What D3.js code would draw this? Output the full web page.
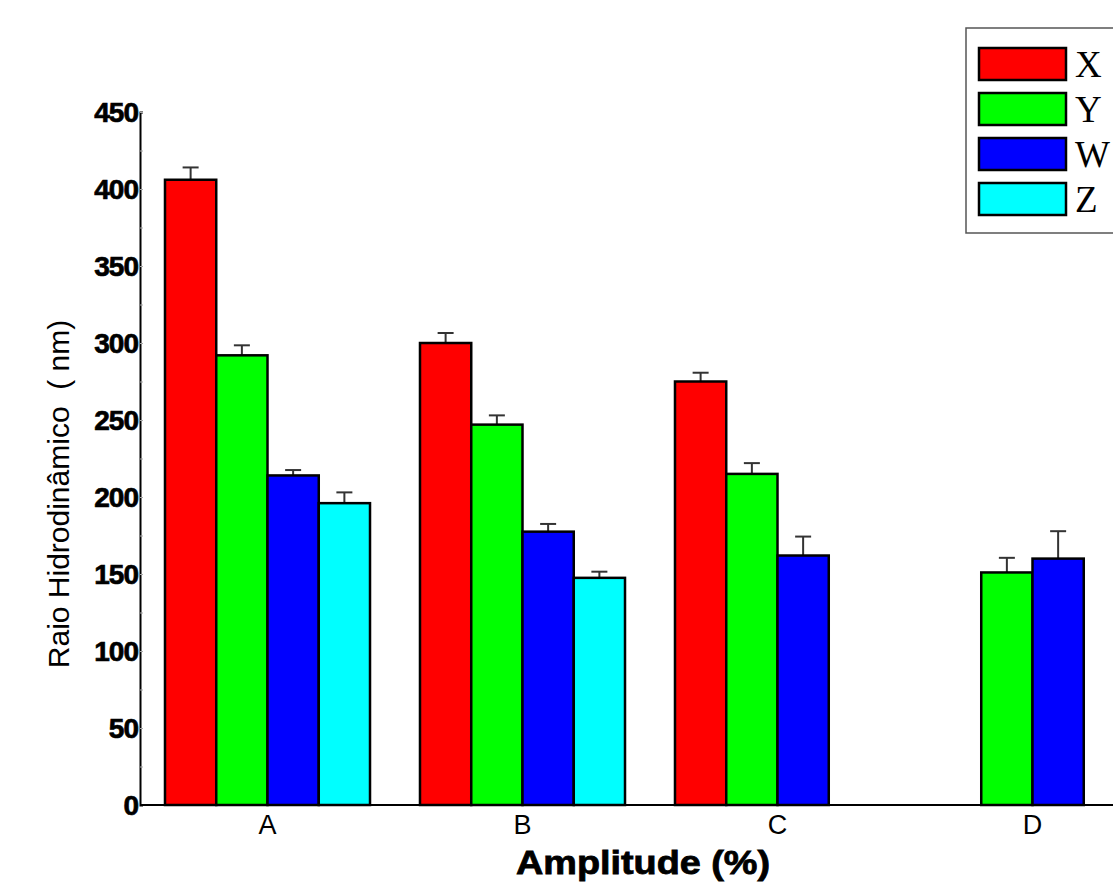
<!DOCTYPE html>
<html><head><meta charset="utf-8">
<script src="https://cdn.jsdelivr.net/npm/d3@7"></script>
<style>body{margin:0;background:#fff}svg{display:block}</style>
</head><body>
<svg id="c" width="1113" height="887"></svg>
<script>
const categories = ["A","B","C","D"];
const seriesNames = ["X","Y","W","Z"];
const seriesColors = ["#ff0000","#00ff00","#0000ff","#00ffff"];
const valuesX = [406, 300, 275, null];
const valuesY = [292, 247, 215, 151];
const valuesW = [214, 177.5, 162, 160];
const valuesZ = [196, 147.5, null, null];
const errX = [8, 6.5, 5.7, null];
const errY = [6.5, 6, 7, 9.5];
const errW = [3.5, 5, 12.3, 17.8];
const errZ = [7, 4, null, null];
const yTicks = [0,50,100,150,200,250,300,350,400,450];

const values = [valuesX, valuesY, valuesW, valuesZ];
const errs = [errX, errY, errW, errZ];
const svg = d3.select("#c");
const sans = "Liberation Sans, Arial, sans-serif";

const y = d3.scaleLinear().domain([0,450]).range([805,112]);
const x0 = d3.scaleBand().domain(categories).range([140,1160]).paddingInner(0.196).paddingOuter(0.098);
const x1 = d3.scaleBand().domain(seriesNames).range([0,x0.bandwidth()]);

const data = [];
categories.forEach((c,i)=>seriesNames.forEach((s,j)=>{
  if(values[j][i]!=null) data.push({c,s,j,v:values[j][i],e:errs[j][i]});
}));

// error bars
const eb = svg.append("g").attr("stroke","#333").attr("stroke-width",2);
data.forEach(d=>{
  const cx = x0(d.c)+x1(d.s)+x1.bandwidth()/2;
  eb.append("line").attr("x1",cx).attr("x2",cx).attr("y1",y(d.v)).attr("y2",y(d.v+d.e));
  eb.append("line").attr("x1",cx-8).attr("x2",cx+8).attr("y1",y(d.v+d.e)).attr("y2",y(d.v+d.e));
});

// bars
svg.append("g").selectAll("rect").data(data).join("rect")
  .attr("x",d=>x0(d.c)+x1(d.s))
  .attr("y",d=>y(d.v))
  .attr("width",x1.bandwidth())
  .attr("height",d=>y(0)-y(d.v))
  .attr("fill",d=>seriesColors[d.j])
  .attr("stroke","#000").attr("stroke-width",2.5);

// y axis
const ya = svg.append("g").attr("transform","translate(140,0)")
  .call(d3.axisRight(y).tickValues(d3.range(0,451,25)).tickSize(3).tickFormat(""));
ya.select(".domain").attr("stroke","#000").attr("stroke-width",2);
ya.selectAll(".tick line").attr("stroke","#aaa");
svg.append("g").selectAll("text").data(yTicks).join("text")
  .attr("x",138).attr("y",d=>y(d)).attr("dy","0.36em")
  .attr("text-anchor","end")
  .attr("font-family",sans)
  .attr("font-weight","bold").attr("font-size",28).attr("letter-spacing",-1)
  .attr("stroke","#000").attr("stroke-width",0.7)
  .text(d=>d);

// x axis
const xa = svg.append("g").attr("transform","translate(0,805)")
  .call(d3.axisBottom(x0).tickSize(0));
xa.select(".domain").attr("stroke","#000").attr("stroke-width",2).attr("d","M140,0H1113");
xa.selectAll(".tick text").attr("dy",0).attr("y",29)
  .attr("font-family",sans)
  .attr("font-size",27).attr("fill","#000");

// titles
svg.append("text").attr("x",643).attr("y",874).attr("text-anchor","middle")
  .attr("font-family",sans).attr("font-weight","bold")
  .attr("font-size",33).attr("textLength",254).attr("lengthAdjust","spacingAndGlyphs")
  .attr("stroke","#000").attr("stroke-width",0.8).text("Amplitude (%)");
svg.append("text").attr("transform","translate(69,494) rotate(-90)").attr("text-anchor","middle")
  .attr("font-family",sans)
  .attr("font-size",30).style("white-space","pre").text("Raio Hidrodinâmico  ( nm)");

// legend
const lg = svg.append("g");
lg.append("rect").attr("x",966).attr("y",28).attr("width",160).attr("height",205)
  .attr("fill","#fff").attr("stroke","#555").attr("stroke-width",1.5);
seriesNames.forEach((s,i)=>{
  const yy = 48 + i*45;
  lg.append("rect").attr("x",979).attr("y",yy).attr("width",87).attr("height",32)
    .attr("fill",seriesColors[i]).attr("stroke","#000").attr("stroke-width",2.5);
  lg.append("text").attr("x",1075).attr("y",yy+29)
    .attr("font-family","Liberation Serif, Times New Roman, serif").attr("font-size",37)
    .attr("fill","#000").text(s);
});
</script>
</body></html>
